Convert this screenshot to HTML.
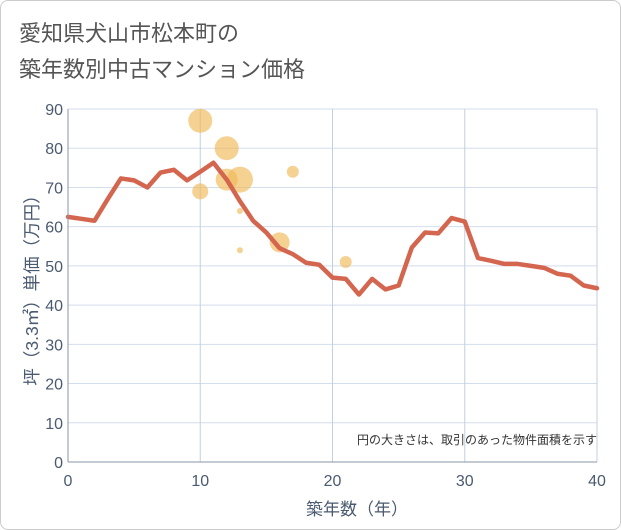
<!DOCTYPE html>
<html><head><meta charset="utf-8"><style>
body{margin:0;background:#fff;font-family:"Liberation Sans","Noto Sans CJK JP",sans-serif}
#wrap{position:relative;width:621px;height:530px;box-sizing:border-box;border:1px solid #ccc;border-radius:8px;background:#fff;overflow:hidden}
svg text{font-family:"Liberation Sans","Noto Sans CJK JP",sans-serif}
</style></head><body>
<div id="wrap">
<svg id="chart" width="621" height="530">
<text x="18" y="40" font-size="22" fill="#555">愛知県犬山市松本町の</text>
<text x="18" y="76" font-size="22" fill="#555">築年数別中古マンション価格</text>
<g id="grid"></g>
<g id="bubbles"></g>
<g id="line"></g>
<g id="axes"></g>
<text x="596" y="443" font-size="12" fill="#333" text-anchor="end">円の大きさは、取引のあった物件面積を示す</text>
<text x="356" y="514" font-size="17" fill="#4a5a70" text-anchor="middle">築年数（年）</text>
<text transform="translate(37,285) rotate(-90)" font-size="17.5" fill="#4a5a70" text-anchor="middle">坪（3.3㎡）単価（万円）</text>
</svg>
</div>
<script>
const xTicks=[0,10,20,30,40];
const yTicks=[0,10,20,30,40,50,60,70,80,90];
const lineYears=[0,1,2,3,4,5,6,7,8,9,10,11,12,13,14,15,16,17,18,19,20,21,22,23,24,25,26,27,28,29,30,31,32,33,34,35,36,37,38,39,40];
const linePrices=[62.5,62,61.5,67,72.3,71.8,70,73.8,74.5,71.8,74,76.3,72,66.5,61.5,58.5,54.5,53,50.8,50.3,47,46.7,42.7,46.7,44,45,54.7,58.5,58.3,62.2,61.3,52,51.3,50.5,50.5,50,49.5,48,47.5,45,44.3];
const bubbleYears=[10,12,12,13,10,17,13,13,16,21];
const bubblePrices=[87,80,72,72,69,74,64,54,56,51];
const bubbleSizes=[12,12,11,13,8,6,3,3,10,6];
const X0=67,X1=596,Y0=461,Y1=108;
const sx=v=>X0+(v-0)/40*(X1-X0);
const sy=v=>Y0-(v/90)*(Y0-Y1);
const NS="http://www.w3.org/2000/svg";
function mk(tag,attrs,parent){const e=document.createElementNS(NS,tag);for(const k in attrs)e.setAttribute(k,attrs[k]);parent.appendChild(e);return e;}
const grid=document.getElementById('grid'),axes=document.getElementById('axes');
yTicks.forEach(t=>{
 const l=mk('line',{x1:X0,x2:X1,y1:sy(t),y2:sy(t),stroke:'#d3deec','stroke-width':1},grid);
 
 
 const tx=mk('text',{x:X0-5,y:sy(t)+6,'font-size':16,fill:'#4a5a70','text-anchor':'end'},axes);
 tx.textContent=t;
 
 
});
xTicks.forEach(t=>{
 const l=mk('line',{x1:sx(t),x2:sx(t),y1:Y1,y2:Y0,stroke:'#c3cfde','stroke-width':1},grid);
 
 
 const tx=mk('text',{x:sx(t),y:Y0+24,'font-size':16,fill:'#4a5a70','text-anchor':'middle'},axes);
 tx.textContent=t;
 
 
});
const ax=mk('line',{x1:X0,x2:X0,y1:Y1,y2:Y0,stroke:'#8a96a8','stroke-width':1},axes);


const ax2=mk('line',{x1:X0,x2:X1,y1:Y0,y2:Y0,stroke:'#8a96a8','stroke-width':1},axes);


const bg=document.getElementById('bubbles');
bubbleYears.forEach((yr,i)=>{
 const c=mk('circle',{cx:sx(yr),cy:sy(bubblePrices[i]),r:bubbleSizes[i],fill:'#f0b858','fill-opacity':0.65},bg);
 
 
});
const pts=lineYears.map((yr,i)=>sx(yr)+','+sy(linePrices[i])).join(' ');
const pl=mk('polyline',{points:pts,fill:'none',stroke:'#d4664f','stroke-width':4.5,'stroke-linejoin':'round','stroke-linecap':'round'},document.getElementById('line'));


</script>
</body></html>
